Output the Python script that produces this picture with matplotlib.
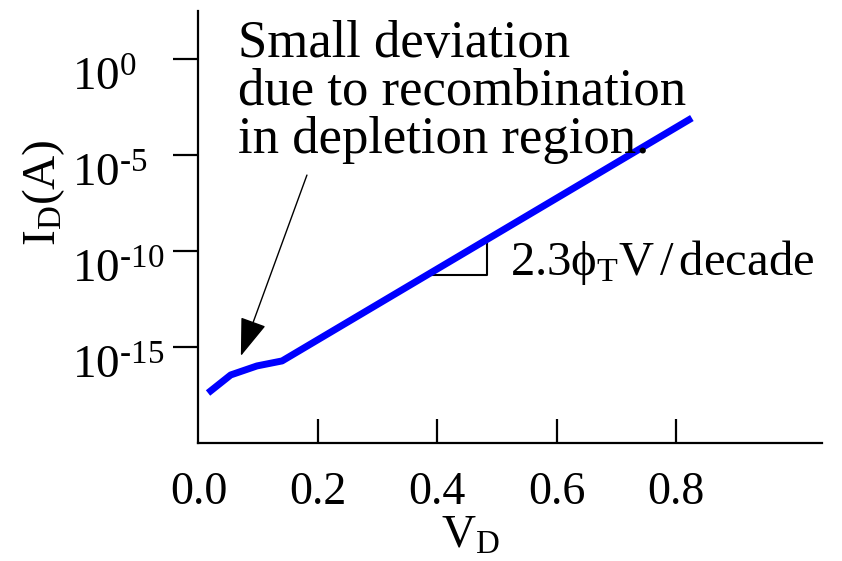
import numpy as np
import matplotlib.pyplot as plt
from matplotlib.transforms import offset_copy

plt.rcParams['font.family'] = ['Liberation Serif', 'DejaVu Serif']
plt.rcParams['mathtext.fontset'] = 'custom'
plt.rcParams['mathtext.rm'] = 'Liberation Serif'
plt.rcParams['mathtext.it'] = 'Liberation Serif:italic'

# diode curve (V, log10 I)
v_d = [0.016, 0.054, 0.098, 0.14, 0.826]
log_i = [-17.38, -16.44, -15.97, -15.71, -3.06]

x_ticks = [0.0, 0.2, 0.4, 0.6, 0.8]
x_labels = ['0.0', '0.2', '0.4', '0.6', '0.8']
y_exps = [0, -5, -10, -15]

i_d = 10.0 ** np.array(log_i)

fig = plt.figure(figsize=(8.42, 5.61), dpi=100)
ax = fig.add_axes([0.2357, 0.2098, 0.7403, 0.7711])

ax.plot(v_d, i_d, color='#0000ff', lw=5, solid_capstyle='butt', zorder=3)
ax.set_yscale('log')
ax.set_xlim(0, 1.0435)
ax.set_ylim(1e-20, 10 ** 2.53)

for s in ['top', 'right']:
    ax.spines[s].set_visible(False)
for s in ['left', 'bottom']:
    ax.spines[s].set_linewidth(1.6)

ax.set_xticks(x_ticks)
ax.set_xticklabels(x_labels, fontsize=33)
ax.tick_params(axis='x', direction='in', length=17, width=1.6, pad=20)
ax.xaxis.get_major_ticks()[0].tick1line.set_visible(False)

ax.set_yticks([10.0 ** e for e in y_exps])
ax.set_yticklabels([])
ax.minorticks_off()
ax.tick_params(axis='y', direction='out', length=18, width=1.6)

# y tick labels, left aligned like the original
trans = offset_copy(ax.get_yaxis_transform(), fig=fig, x=-126, y=-31, units='dots')
for e in y_exps:
    ax.text(0, 10.0 ** e, r'$\mathregular{10^{%s}}$' % str(e).replace('-', '\u2010'),
            transform=trans, ha='left', va='baseline', fontsize=34, clip_on=False)

ax.set_xlabel(r'$\mathregular{V_D}$', fontsize=34)
ax.xaxis.set_label_coords(0.436, -0.166)
ax.set_ylabel(r'$\mathregular{I_D(A)}$', fontsize=34)
ax.yaxis.set_label_coords(-0.211, 0.579)

# annotation with arrow
ax.annotate('', xy=(0.071, 10 ** -15.45), xytext=(0.1816, 10 ** -6.03),
            arrowprops=dict(arrowstyle='-|>,head_length=1.2,head_width=0.42',
                            mutation_scale=20, lw=1, color='k', shrinkA=0, shrinkB=0))
ax.text(0.066, 10 ** -4.88, 'Small deviation\ndue to recombination\nin depletion region.',
        fontsize=38, ha='left', va='baseline', linespacing=1.0)

# slope triangle
tv = np.array([0.383, 0.483])
tl = np.interp(tv, v_d, log_i)
ax.plot([tv[0], tv[1], tv[1]], 10.0 ** np.array([tl[0], tl[0], tl[1]]),
        color='k', lw=1.5, zorder=2)
ax.text(0.521, 10 ** tl[0], r'$\mathregular{2.3\phi_T V\,/\,decade}$',
        fontsize=35, ha='left', va='baseline')

fig.savefig('out.png', dpi=100)
